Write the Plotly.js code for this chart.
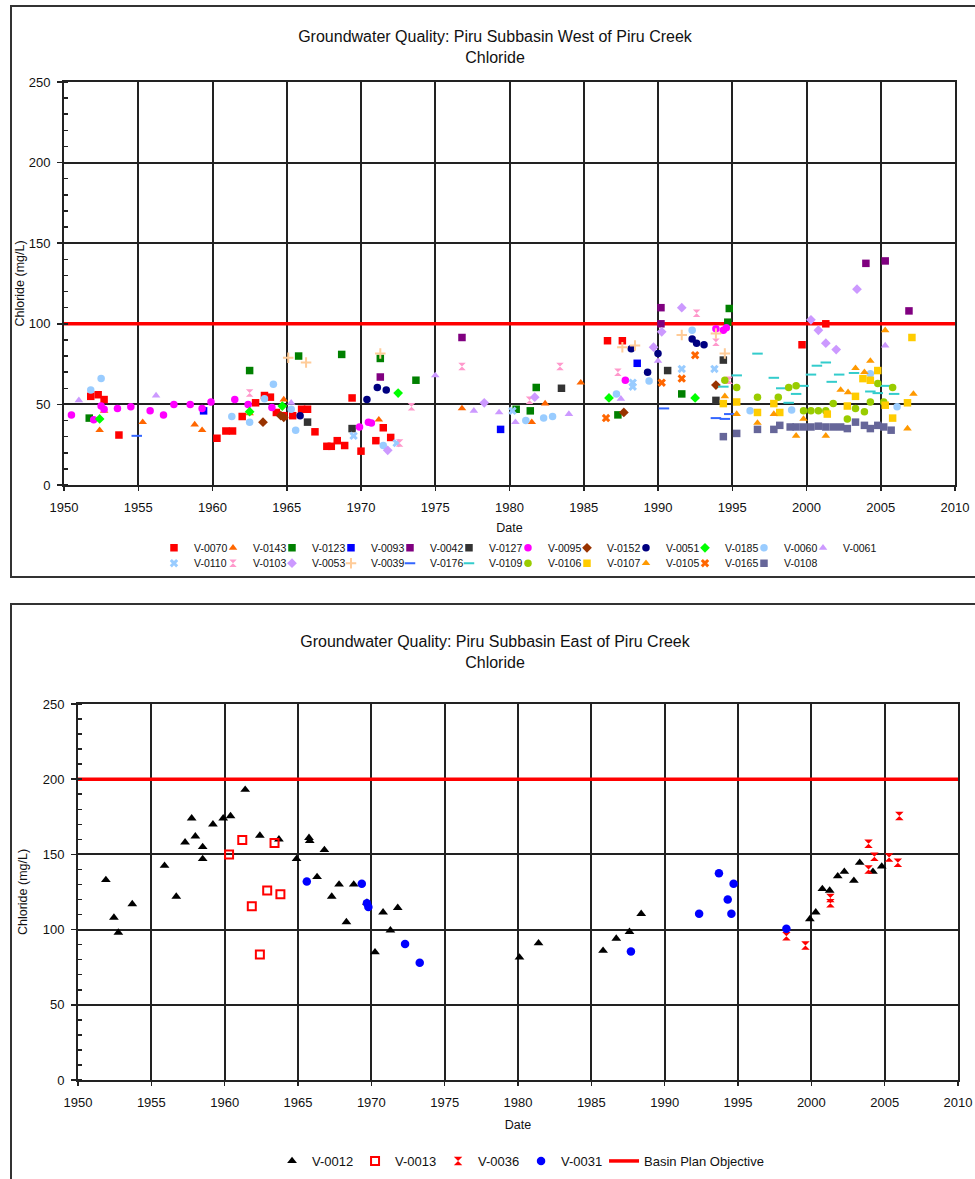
<!DOCTYPE html>
<html><head><meta charset="utf-8">
<script src="https://cdn.plot.ly/plotly-3.0.1.min.js"></script>
<style>
html,body{margin:0;padding:0;background:#fff;overflow:hidden;width:975px;height:1179px;}
.frame{position:absolute;left:10px;width:966px;border:2px solid #333;background:#fff;}
#c1{top:5px;height:569px;}
#c2{top:603px;height:580px;}
</style></head><body>
<div id="c1" class="frame"></div>
<div id="c2" class="frame"></div>
<script>
// ---------- Top chart: Piru Subbasin West of Piru Creek ----------
const v0070_x = [1951.8,1952.3,1952.7,1953.7,1960.3,1960.9,1961.35,1962.0,1962.9,1963.5,1963.9,1964.3,1964.8,1965.4,1966.0,1966.4,1966.9,1967.7,1968.0,1968.4,1968.9,1969.4,1970.0,1971.0,1971.5,1972.0,1986.6,1987.6,1999.7,2001.3];
const v0070_y = [55,56,53,31,29,33.5,33.5,42.5,51,55.5,54.5,45,43,43,47,47,33,24,24,27.5,24.5,54,21,27.5,35.5,29.5,89.5,89.5,87,100];
const v0143_x = [1952.4,1952.7,1955.3,1958.8,1959.3,1962.5,1964.8,1971.2,1976.8,1981.5,1982.4,1984.8];
const v0143_y = [34,46,39,37.5,34,44.5,53,40.5,47.5,39,50.5,63.5];
const v0123_x = [1951.7,1962.5,1965.8,1968.7,1971.3,1973.7,1980.45,1981.4,1981.8,1987.3,1991.6,1994.7,1994.8];
const v0123_y = [41.5,71,80,81,78.5,65,47,46,60.5,43.5,56.5,101,109.5];
const v0093_x = [1959.4,1979.4,1988.6];
const v0093_y = [46,34.5,75.5];
const v0042_x = [1971.3,1976.8,1990.2,1990.2,2004.0,2005.3,2006.9];
const v0042_y = [67,91.5,110,100,137.5,139,108];
const v0127_x = [1966.4,1969.4,1983.5,1990.65,1993.9,1994.4];
const v0127_y = [39,35,60,71,52.5,77.5];
const v0095_x = [1950.5,1952.0,1952.5,1952.7,1953.6,1954.5,1955.8,1956.7,1957.4,1958.5,1959.3,1959.9,1961.5,1962.4,1964.0,1969.9,1970.5,1970.7,1987.8,1993.9,1994.4,1994.6];
const v0095_y = [43.5,40.5,49,47,47.5,48.5,46,43.5,50,50,47.5,51.5,53,50,48,36,39,38.5,65,97,96,97.5];
const v0152_x = [1963.4,1964.6,1964.8,1987.7,1993.9];
const v0152_y = [39,43,42,45,62];
const v0051_x = [1965.9,1970.4,1971.1,1971.7,1988.2,1989.3,1990.0,1992.3,1992.6,1993.1];
const v0051_y = [43,53,60.5,59,84.5,70,81.5,90.5,88,87];
const v0185_x = [1952.4,1962.5,1964.7,1972.5,1986.7,1992.5];
const v0185_y = [41,45.5,49,57,54,54];
const v0060_x = [1951.8,1952.5,1961.3,1962.5,1963.5,1964.1,1965.3,1965.6,1971.5,1981.1,1982.3,1982.9,1987.2,1989.4,1992.3,1996.2,1999.0,2004.3,2006.1];
const v0060_y = [59,66,42.5,39,53.5,62.5,47,34,24.5,40,41.5,42.5,56.5,64.5,96,46,46.5,69,48.5];
const v0061_x = [1951.0,1956.2,1965.3,1975.0,1977.6,1979.3,1980.4,1984.0,1987.5,1990.0,2005.3];
const v0061_y = [52.5,55.5,51,68,46,45,39,44,53.5,77,86.5];
const v0110_x = [1969.5,1972.4,1980.2,1988.3,1988.3,1991.6,1993.8];
const v0110_y = [30.5,26,46,63.5,61,72,72];
const v0103_x = [1962.5,1972.6,1973.4,1976.8,1981.35,1983.4,1987.3,1992.6,1993.9,1994.8];
const v0103_y = [57,26,48.5,73.5,52.5,73.5,70,106.5,88.5,65];
const v0053_x = [1971.8,1978.3,1981.7,1989.7,1990.25,1991.6,2000.3,2000.8,2001.3,2002.0,2003.4];
const v0053_y = [21.5,51,54.5,85.5,95,110,102.5,96,88,84,121.5];
const v0039_x = [1965.1,1966.3,1971.3,1987.6,1988.45,1991.6,1993.9,1994.5];
const v0039_y = [79,76,81.5,85.5,86.5,93,94,81.5];
const v0176_x = [1954.9,1990.4,1993.9,1994.5,1994.8];
const v0176_y = [30.5,47.5,41.5,41,44];
const v0109_x = [1994.4,1995.3,1996.7,1997.8,1998.3,1998.8,1999.3,1999.8,2000.3,2000.7,2001.3,2001.7,2002.2,2003.2,2004.3,2004.8,2005.3,2005.9];
const v0109_y = [61,68,81.5,66.5,60,51,56.5,61.5,68.5,74,76,64,68.5,69.5,58,57,61.5,56.5];
const v0106_x = [1994.5,1995.3,1996.7,1998.1,1998.8,1999.3,1999.8,2000.3,2000.8,2001.3,2001.8,2002.75,2003.3,2003.9,2004.3,2004.8,2005.2,2005.8];
const v0106_y = [65,60.5,54.5,54.5,60.5,61.5,46,46,46,46,50.5,41,47.5,45.5,51.5,63,51.5,60.5];
const v0107_x = [1994.4,1995.3,1996.7,1997.8,1998.2,2001.4,2002.75,2003.3,2003.8,2004.3,2004.8,2005.3,2005.8,2006.8,2007.1];
const v0107_y = [50.5,51.5,45,50.5,45,44,49,55,66,65,71,49.5,41.5,51,91.5];
const v0105_x = [1994.5,1995.3,1996.7,1997.8,1999.3,1999.8,2001.3,2002.3,2002.8,2003.3,2003.9,2004.3,2005.3,2006.8,2007.2];
const v0105_y = [55,44,38.5,44,30.5,41,30.5,59,57.5,72.5,70,77,96,35,56.5];
const v0165_x = [1986.5,1990.25,1991.6,1992.5];
const v0165_y = [41.5,63.5,66,80.5];
const v0108_x = [1994.4,1995.3,1996.7,1997.8,1998.2,1998.9,1999.3,1999.8,2000.3,2000.8,2001.3,2001.8,2002.3,2002.75,2003.3,2003.9,2004.3,2004.8,2005.2,2005.7];
const v0108_y = [30,32,34.5,34.5,37,36,36,36,36,36.5,36,36,36,35,39,37,35,37,36,34];

// ---------- Bottom chart: Piru Subbasin East of Piru Creek ----------
const v0012_x = [1951.9,1952.45,1952.75,1953.7,1955.9,1956.7,1957.3,1957.75,1958.0,1958.5,1958.5,1959.2,1959.9,1960.4,1961.4,1962.4,1963.7,1964.9,1965.75,1965.8,1966.3,1966.8,1967.3,1967.8,1968.3,1968.8,1969.7,1970.25,1970.8,1971.3,1971.8,1980.1,1981.4,1985.8,1986.7,1987.6,1988.4,1999.9,2000.3,2000.75,2001.25,2001.8,2002.25,2002.9,2003.3,2004.2,2004.8];
const v0012_y = [133,108,98,117,142.5,122,158,174,162,155,147,170,174,175.5,193,162.5,160,147,161,159,135,153,122,130,105,130,118,85,111.5,99.5,114.5,81.5,91,86,94,98.5,110.5,107,111.5,127,126,135.5,138.5,132.5,144.5,138.5,142];
const v0013_x = [1960.3,1961.2,1961.85,1962.4,1962.9,1963.4,1963.8];
const v0013_y = [150,159.5,115.5,83.5,126,157.5,123.5];
const v0036_x = [1998.3,1999.6,2001.3,2001.3,2003.9,2003.9,2004.3,2005.3,2005.9,2006.0];
const v0036_y = [95.5,89.5,121,117.5,157,140,148.5,148,144.5,175.5];
const v0031_x = [1965.6,1969.35,1969.7,1969.8,1972.3,1973.3,1987.7,1992.35,1993.7,1994.3,1994.55,1994.7,1998.3];
const v0031_y = [132,130.5,117.5,115,90.5,78,85.5,110.5,137.5,120,110.5,130.5,100.5];

const objectiveX = [1950, 2010];
const objectiveWest = [100, 100];
const objectiveEast = [200, 200];

const FONT = '"Liberation Sans", Arial, sans-serif';
const LINE_SYMS = ['cross-thin','line-ew'];
const GRID = '#222222';

function pts(name, xs, ys, symbol, color, legend, size, lw) {
  const isLine = LINE_SYMS.indexOf(symbol) >= 0;
  const t = {
    type:'scatter', mode:'markers', name:name, x:xs, y:ys, legend:legend,
    marker:{symbol:symbol, color:color, size:size||7.5,
      line:{color:color, width: isLine ? 2 : 0}},
    hoverinfo:'x+y+name'
  };
  if (lw) t.legendwidth = lw;
  return t;
}

function xaxisDef(standoff) {
  return {range:[1950,2010], tick0:1950, dtick:5, showgrid:true, gridcolor:GRID, gridwidth:2,
    showline:true, linecolor:GRID, linewidth:2, mirror:true, zeroline:false,
    ticks:'outside', ticklen:4, tickwidth:1.5, tickcolor:GRID, ticklabelstandoff:5,
    tickfont:{size:13, color:'#111', family:FONT},
    title:{text:'Date', font:{size:12.5, color:'#111', family:FONT}, standoff:standoff}, automargin:false};
}
function yaxisDef(standoff) {
  return {range:[0,250], tick0:0, dtick:50, showgrid:true, gridcolor:GRID, gridwidth:2,
    showline:true, linecolor:GRID, linewidth:2, mirror:true, zeroline:false,
    ticks:'outside', ticklen:5, tickwidth:1.5, tickcolor:GRID, ticklabelstandoff:4,
    tickfont:{size:13, color:'#111', family:FONT},
    minor:{dtick:10, ticks:'inside', ticklen:4, tickwidth:1.5, tickcolor:GRID, showgrid:false},
    title:{text:'Chloride (mg/L)', font:{size:12.5, color:'#111', family:FONT}, standoff:standoff}, automargin:false};
}

const legTop = {orientation:'h', xanchor:'left', x:0.101, yanchor:'middle', entrywidth:14, entrywidthmode:'pixels',
  font:{size:10.5, color:'#111', family:FONT}, bgcolor:'rgba(0,0,0,0)', tracegroupgap:0, itemwidth:30};

const topData = [
  {type:'scatter', mode:'lines', name:'Basin Plan Objective', x:objectiveX, y:objectiveWest,
   line:{color:'#FF0000', width:3.5}, showlegend:false, hoverinfo:'skip'},
  pts('V-0070', v0070_x, v0070_y, 'square', '#FF0000', 'legend'),
  pts('V-0143', v0143_x, v0143_y, 'triangle-up', '#FF6600', 'legend'),
  pts('V-0123', v0123_x, v0123_y, 'square', '#008000', 'legend'),
  pts('V-0093', v0093_x, v0093_y, 'square', '#0000FF', 'legend'),
  pts('V-0042', v0042_x, v0042_y, 'square', '#800080', 'legend'),
  pts('V-0127', v0127_x, v0127_y, 'square', '#333333', 'legend'),
  pts('V-0095', v0095_x, v0095_y, 'circle', '#FF00FF', 'legend'),
  pts('V-0152', v0152_x, v0152_y, 'diamond', '#993300', 'legend'),
  pts('V-0051', v0051_x, v0051_y, 'circle', '#000080', 'legend'),
  pts('V-0185', v0185_x, v0185_y, 'diamond', '#00FF00', 'legend'),
  pts('V-0060', v0060_x, v0060_y, 'circle', '#99CCFF', 'legend'),
  pts('V-0061', v0061_x, v0061_y, 'triangle-up', '#CC99FF', 'legend', 7.5, 40),
  pts('V-0110', v0110_x, v0110_y, 'x', '#99CCFF', 'legend2'),
  pts('V-0103', v0103_x, v0103_y, 'hourglass', '#FF99CC', 'legend2'),
  pts('V-0053', v0053_x, v0053_y, 'diamond', '#CC99FF', 'legend2'),
  pts('V-0039', v0039_x, v0039_y, 'cross-thin', '#FFCC99', 'legend2'),
  pts('V-0176', v0176_x, v0176_y, 'line-ew', '#3366FF', 'legend2'),
  pts('V-0109', v0109_x, v0109_y, 'line-ew', '#33CCCC', 'legend2'),
  pts('V-0106', v0106_x, v0106_y, 'circle', '#99CC00', 'legend2'),
  pts('V-0107', v0107_x, v0107_y, 'square', '#FFCC00', 'legend2'),
  pts('V-0105', v0105_x, v0105_y, 'triangle-up', '#FF9900', 'legend2'),
  pts('V-0165', v0165_x, v0165_y, 'x', '#FF6600', 'legend2'),
  pts('V-0108', v0108_x, v0108_y, 'square', '#666699', 'legend2', 7.5, 40)
];

const topLayout = {
  width:966, height:569, paper_bgcolor:'#fff', plot_bgcolor:'#fff',
  font:{family:FONT, color:'#111'},
  margin:{l:52, r:23, t:75, b:91, autoexpand:false},
  title:{text:'Groundwater Quality: Piru Subbasin West of Piru Creek<br>Chloride',
    font:{size:16, color:'#111', family:FONT}, x:0.5, xref:'container', xanchor:'center',
    y:0.938, yref:'container', yanchor:'top'},
  xaxis:xaxisDef(10), yaxis:yaxisDef(1),
  legend:Object.assign({}, legTop, {y:-0.156}),
  legend2:Object.assign({}, legTop, {y:-0.194}),
  showlegend:true
};

const botData = [
  pts('V-0012', v0012_x, v0012_y, 'triangle-up', '#000000', 'legend', 8.5),
  {type:'scatter', mode:'markers', name:'V-0013', x:v0013_x, y:v0013_y,
   marker:{symbol:'square-open', color:'#FF0000', size:8, line:{color:'#FF0000', width:2}}},
  pts('V-0036', v0036_x, v0036_y, 'hourglass', '#FF0000', 'legend', 8.5),
  pts('V-0031', v0031_x, v0031_y, 'circle', '#0000FF', 'legend', 8.5),
  {type:'scatter', mode:'lines', name:'Basin Plan Objective', x:objectiveX, y:objectiveEast,
   line:{color:'#FF0000', width:3.5}, hoverinfo:'skip', legendwidth:130}
];

const botLayout = {
  width:966, height:580, paper_bgcolor:'#fff', plot_bgcolor:'#fff',
  font:{family:FONT, color:'#111'},
  margin:{l:66, r:20, t:99, b:105, autoexpand:false},
  title:{text:'Groundwater Quality: Piru Subbasin East of Piru Creek<br>Chloride',
    font:{size:16, color:'#111', family:FONT}, x:0.5, xref:'container', xanchor:'center',
    y:0.927, yref:'container', yanchor:'top'},
  xaxis:xaxisDef(12), yaxis:yaxisDef(12),
  legend:{orientation:'h', xanchor:'left', x:0.2205, yanchor:'middle', y:-0.2154,
    entrywidth:38, entrywidthmode:'pixels',
    font:{size:13, color:'#111', family:FONT}, bgcolor:'rgba(0,0,0,0)', itemwidth:30},
  showlegend:true
};

Plotly.newPlot('c1', topData, topLayout, {displayModeBar:false, staticPlot:true});
Plotly.newPlot('c2', botData, botLayout, {displayModeBar:false, staticPlot:true});
</script>
</body></html>
